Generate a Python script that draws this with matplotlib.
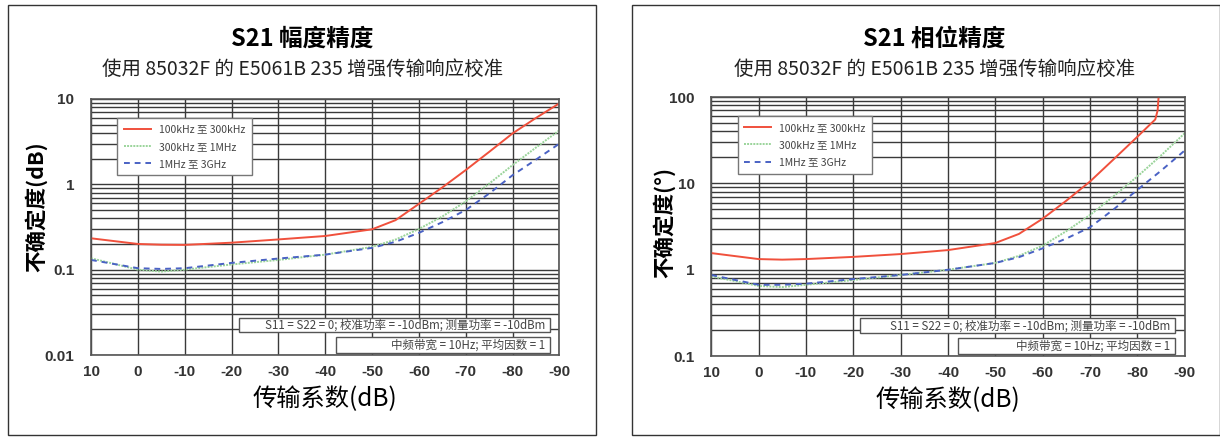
import numpy as np
from matplotlib import pyplot as plt
from matplotlib.patches import Rectangle
from matplotlib.ticker import FixedLocator, NullFormatter

plt.rcParams['font.family'] = ['Noto Sans CJK SC', 'DejaVu Sans']

# 传输系数 (dB)
x_pts = [10, 0, -5, -10, -20, -30, -40, -50, -55, -60, -65, -70, -75, -80, -85, -90]

# S21 幅度精度 (dB)
amp_red = [0.233, 0.200, 0.196, 0.195, 0.207, 0.226, 0.248, 0.297, 0.38, 0.59, 0.92, 1.47, 2.4, 3.95, 6.0, 8.9]
amp_green = [0.136, 0.100, 0.095, 0.100, 0.115, 0.130, 0.150, 0.185, 0.225, 0.30, 0.42, 0.63, 1.02, 1.68, 2.7, 4.3]
amp_blue = [0.130, 0.104, 0.102, 0.104, 0.120, 0.135, 0.150, 0.180, 0.212, 0.27, 0.36, 0.50, 0.78, 1.28, 1.95, 3.0]

# S21 相位精度 (°)
ph_x_red = [10, 0, -5, -10, -20, -30, -40, -50, -55, -60, -65, -70, -75, -80, -83.8, -84.3, -84.5]
ph_red = [1.56, 1.33, 1.31, 1.33, 1.41, 1.52, 1.69, 2.04, 2.6, 3.9, 6.3, 10.5, 19.0, 34.6, 55.0, 70.0, 100.0]
ph_green = [0.84, 0.65, 0.63, 0.67, 0.76, 0.87, 1.00, 1.20, 1.45, 1.90, 2.8, 4.3, 7.1, 12.0, 21.0, 38.0]
ph_blue = [0.87, 0.67, 0.67, 0.69, 0.78, 0.87, 1.00, 1.20, 1.40, 1.77, 2.3, 3.1, 5.0, 8.4, 14.0, 24.0]

legend_labels = ['100kHz 至 300kHz', '300kHz 至 1MHz', '1MHz 至 3GHz']
note1 = 'S11 = S22 = 0; 校准功率 = -10dBm; 测量功率 = -10dBm'
note2 = '中频带宽 = 10Hz; 平均因数 = 1'
x_ticks = [10, 0, -10, -20, -30, -40, -50, -60, -70, -80, -90]

RED = '#f0503c'
GREEN = '#9ad49a'
BLUE = '#4a62c4'
GRID = '#3a3a3a'


def dibujar_panel(fig, pos, ylim, yticks, ylabel, label_xy, curvas):
    ax = fig.add_axes(pos)
    ax.set_yscale('log')
    ax.set_xlim(10, -90)
    ax.set_ylim(*ylim)

    minors = []
    for dec in yticks[:-1]:
        minors += [dec * k for k in range(2, 10)]
    ax.yaxis.set_major_locator(FixedLocator(yticks))
    ax.yaxis.set_minor_locator(FixedLocator(minors))
    ax.yaxis.set_minor_formatter(NullFormatter())
    ax.set_yticklabels([('%g' % t) for t in yticks])
    ax.set_xticks(x_ticks)
    ax.set_xticklabels([str(t) for t in x_ticks])
    ax.grid(True, which='both', axis='y', color=GRID, lw=1.0)
    ax.grid(True, which='major', axis='x', color=GRID, lw=1.0)
    ax.tick_params(which='both', length=0)
    ax.tick_params(axis='y', pad=12)
    ax.tick_params(axis='x', pad=7)
    for lab in ax.get_xticklabels() + ax.get_yticklabels():
        lab.set_family(['Liberation Sans', 'DejaVu Sans'])
        lab.set_fontweight('bold')
        lab.set_fontsize(11)
        lab.set_color('#333333')
    for s in ax.spines.values():
        s.set_color('#555555')
        s.set_linewidth(1.2)

    (xr, yr), (xg, yg), (xb, yb) = curvas
    ax.plot(xr, yr, color=RED, lw=1.4, label=legend_labels[0])
    ax.plot(xg, yg, color=GREEN, lw=1.4, ls=(0, (1, 0.6)), label=legend_labels[1])
    ax.plot(xb, yb, color=BLUE, lw=1.4, ls=(0, (3, 2.5)), label=legend_labels[2])

    leg = ax.legend(loc='upper left', bbox_to_anchor=(0.045, 0.945), fontsize=7.5,
                    fancybox=False, framealpha=1, edgecolor='#777777',
                    handlelength=2.6, borderpad=0.6, labelspacing=0.7)
    leg.get_frame().set_linewidth(1.0)
    for t in leg.get_texts():
        t.set_color('#444444')

    ax.add_patch(Rectangle((0.315, 0.088), 0.665, 0.058, transform=ax.transAxes,
                           facecolor='white', edgecolor='#555555', lw=1.0, zorder=5))
    ax.text(0.97, 0.117, note1, transform=ax.transAxes, ha='right', va='center',
            fontsize=8.3, color='#444444', zorder=6)
    ax.add_patch(Rectangle((0.522, 0.008), 0.458, 0.062, transform=ax.transAxes,
                           facecolor='white', edgecolor='#555555', lw=1.0, zorder=5))
    ax.text(0.97, 0.039, note2, transform=ax.transAxes, ha='right', va='center',
            fontsize=8.3, color='#444444', zorder=6)

    ax.set_ylabel(ylabel, fontsize=15.5, fontweight='bold', va='center')
    ax.yaxis.set_label_coords(*label_xy)
    ax.set_xlabel('传输系数(dB)', fontsize=17.5, labelpad=5)
    return ax


def main():
    fig = plt.figure(figsize=(12.2, 4.37), dpi=100)

    for x0 in (0.0066, 0.518):
        fig.add_artist(Rectangle((x0, 0.005), 0.482, 0.983, transform=fig.transFigure,
                                 fill=False, edgecolor='#333333', lw=1.0))

    dibujar_panel(fig, [0.0746, 0.1876, 0.384, 0.586], (0.01, 10), [0.01, 0.1, 1, 10],
                  '不确定度(dB)', (-0.117, 0.58),
                  [(x_pts, amp_red), (x_pts, amp_green), (x_pts, amp_blue)])
    dibujar_panel(fig, [0.583, 0.185, 0.388, 0.593], (0.1, 100), [0.1, 1, 10, 100],
                  '不确定度(°)', (-0.10, 0.515),
                  [(ph_x_red, ph_red), (x_pts, ph_green), (x_pts, ph_blue)])

    for cx, title in ((0.248, 'S21 幅度精度'), (0.766, 'S21 相位精度')):
        fig.text(cx, 0.912, title, ha='center', va='center', fontsize=17, fontweight='bold')
        fig.text(cx, 0.84, '使用 85032F 的 E5061B 235 增强传输响应校准', ha='center',
                 va='center', fontsize=14, color='#222222')

    fig.savefig('out.png', dpi=100)


if __name__ == "__main__":
    main()
